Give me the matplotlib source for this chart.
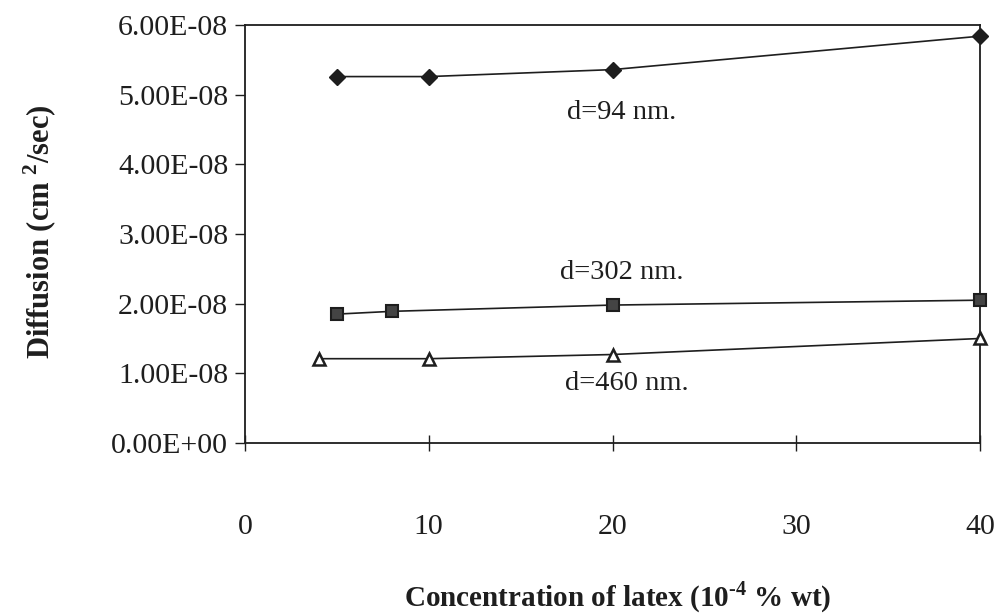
import matplotlib
matplotlib.use("Agg")
import matplotlib.pyplot as plt

plt.rcParams['font.family'] = ['Liberation Serif', 'DejaVu Serif']
plt.rcParams['mathtext.fontset'] = 'custom'
plt.rcParams['mathtext.rm'] = 'Liberation Serif:bold'
plt.rcParams['mathtext.bf'] = 'Liberation Serif:bold'

# concentration (10^-4 % wt) and diffusion (cm^2/sec) per particle size
conc_94 = [5, 10, 20, 40]
diff_94 = [5.26e-8, 5.26e-8, 5.36e-8, 5.84e-8]

conc_302 = [5, 8, 20, 40]
diff_302 = [1.85e-8, 1.89e-8, 1.98e-8, 2.05e-8]

conc_460 = [4, 10, 20, 40]
diff_460 = [1.21e-8, 1.21e-8, 1.27e-8, 1.50e-8]

xticks = [0, 10, 20, 30, 40]
yticks = [0, 1e-8, 2e-8, 3e-8, 4e-8, 5e-8, 6e-8]
ytick_labels = ["0.00E+00", "1.00E-08", "2.00E-08", "3.00E-08",
                "4.00E-08", "5.00E-08", "6.00E-08"]

ink = "#1e1e1e"

fig = plt.figure(figsize=(10, 6.15), dpi=100)
ax = fig.add_axes([0.245, 0.2797, 0.735, 0.6796])

ax.plot(conc_94, diff_94, color=ink, lw=1.2, marker="D", ms=8.5,
        mfc=ink, mec=ink, clip_on=False, zorder=3)
ax.plot(conc_302, diff_302, color=ink, lw=1.2, marker="s", ms=8.5,
        mfc="#444444", mec=ink, mew=1.5, clip_on=False, zorder=3)
ax.plot(conc_460, diff_460, color=ink, lw=1.2, marker="^", ms=9,
        mfc="white", mec=ink, mew=1.8, clip_on=False, zorder=3)

ax.text(20.5, 4.75e-8, "d=94 nm.", fontsize=20.5, color=ink, ha="center", va="center")
ax.text(20.5, 2.45e-8, "d=302 nm.", fontsize=20.5, color=ink, ha="center", va="center")
ax.text(20.8, 0.85e-8, "d=460 nm.", fontsize=20.5, color=ink, ha="center", va="center")

ax.set_xlim(0, 40)
ax.set_ylim(0, 6e-8)
ax.set_xticks(xticks)
ax.set_xticklabels([str(t) for t in xticks])
ax.set_yticks(yticks)
ax.set_yticklabels(ytick_labels)

ax.tick_params(axis="x", direction="inout", length=12, width=1, pad=45,
               labelsize=21.5, colors=ink)
ax.tick_params(axis="y", direction="out", length=7, width=1, pad=5,
               labelsize=21.5, colors=ink)
for side in ["left", "right", "top", "bottom"]:
    ax.spines[side].set_color(ink)
    ax.spines[side].set_linewidth(1.3)

fig.text(0.618, 1 - 597 / 615, "Concentration of latex (10$^{\\mathrm{\u20104}}$ % wt)",
         fontsize=21, fontweight="bold", color=ink, ha="center", va="center")
fig.text(0.04, 1 - 232 / 615, r"Diffusion (cm $^{\mathrm{2}}$/sec)",
         fontsize=22, fontweight="bold", color=ink, ha="center", va="center",
         rotation=90)

fig.savefig("out.png", dpi=100, facecolor="white")
